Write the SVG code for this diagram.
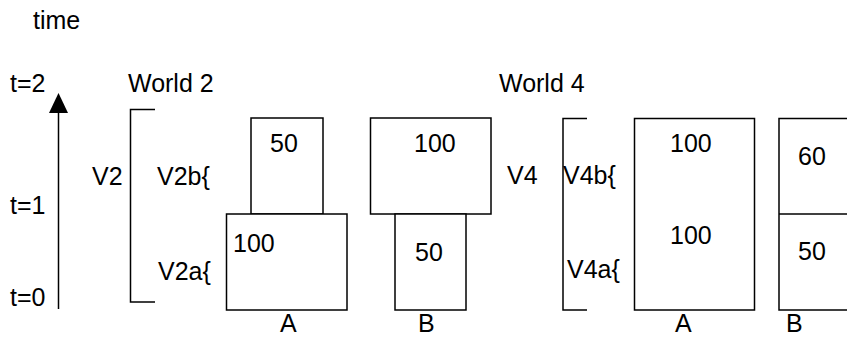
<svg xmlns="http://www.w3.org/2000/svg" width="847" height="337" viewBox="0 0 847 337">
<style>
text{font-family:"Liberation Sans",Arial,sans-serif;font-size:25px;fill:#000}
.b{fill:#fff;stroke:#000;stroke-width:1.5}
.l{fill:none;stroke:#000;stroke-width:1.5}
</style>
<rect width="847" height="337" fill="#fff"/>
<text x="33" y="29">time</text>
<g id="timeaxis">
<text x="10" y="92">t=2</text>
<text x="10" y="214">t=1</text>
<text x="10" y="306">t=0</text>
</g>
<g id="connectors">
<line class="l" x1="58.5" y1="112" x2="58.5" y2="309"/>
<polygon points="58.5,93 49,113 68,113" fill="#000"/>
</g>
<g id="world2">
<text x="128" y="92">World 2</text>
<text x="92" y="185">V2</text>
<path class="l" d="M155,109.5 H130.5 V302 H155"/>
<text x="157" y="185">V2b{</text>
<text x="158" y="280">V2a{</text>
</g>
<g id="w2A">
<rect class="b" x="251" y="118" width="72" height="96"/>
<text x="270" y="152">50</text>
<rect class="b" x="226.5" y="214" width="120.5" height="96"/>
<text x="233" y="252">100</text>
<text x="280" y="332">A</text>
</g>
<g id="w2B">
<rect class="b" x="370.5" y="118" width="120.5" height="96"/>
<text x="414" y="152">100</text>
<rect class="b" x="395" y="214" width="71" height="96"/>
<text x="415" y="261">50</text>
<text x="418" y="332">B</text>
</g>
<g id="world4">
<text x="499" y="92">World 4</text>
<text x="507" y="184">V4</text>
<path class="l" d="M587,118.5 H563 V310 H587"/>
<text x="563" y="184">V4b{</text>
<text x="567" y="278">V4a{</text>
</g>
<g id="w4A">
<rect class="b" x="634.5" y="118.5" width="120" height="191.5"/>
<text x="670" y="152">100</text>
<text x="670" y="244">100</text>
<text x="675" y="332">A</text>
</g>
<g id="w4B">
<rect class="b" x="779" y="118.5" width="80" height="191.5"/>
<line class="l" x1="779" y1="214" x2="847" y2="214"/>
<text x="798" y="165">60</text>
<text x="798" y="260">50</text>
<text x="786" y="332">B</text>
</g>
</svg>
